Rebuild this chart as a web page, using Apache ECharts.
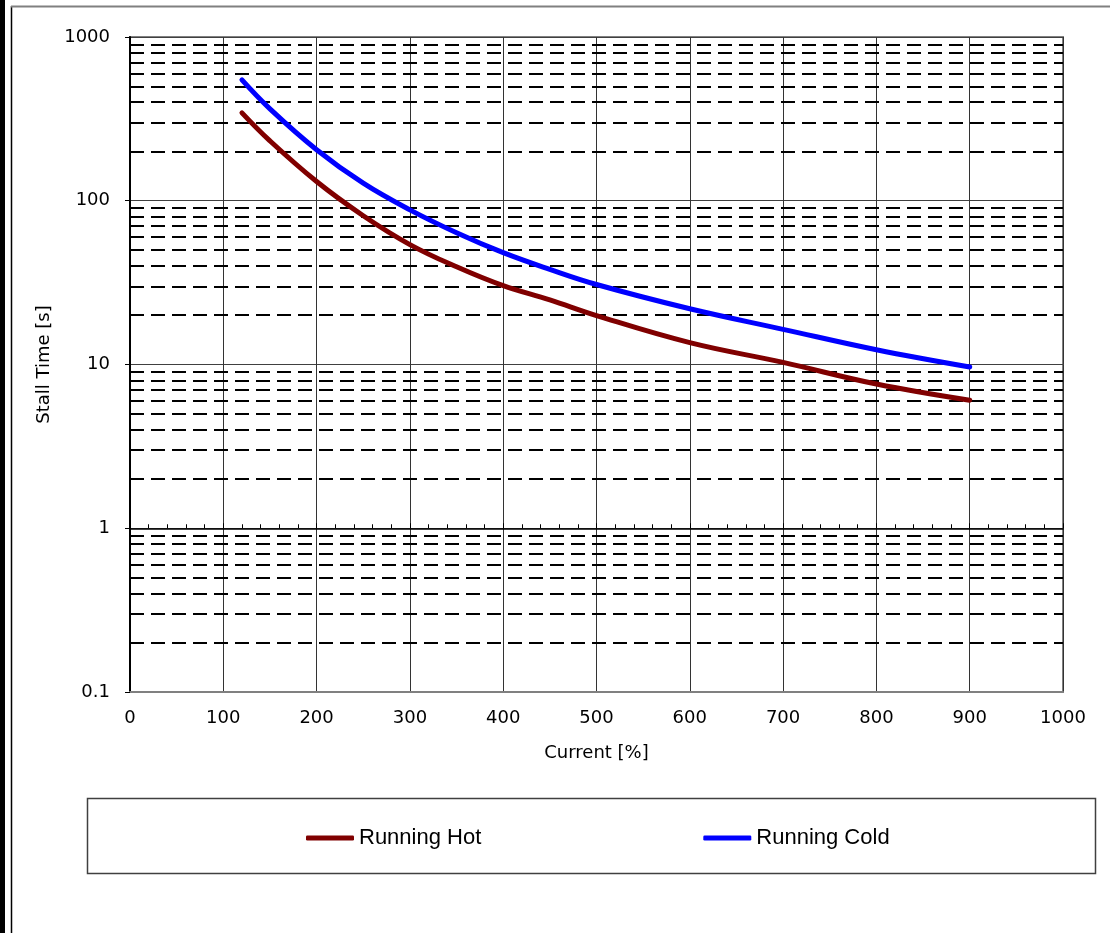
<!DOCTYPE html>
<html>
<head>
<meta charset="utf-8">
<script src="https://cdn.jsdelivr.net/npm/echarts@6/dist/echarts.min.js"></script>
<style>
html,body{margin:0;padding:0;background:#fff;}
#chart{width:1110px;height:933px;}
</style>
</head>
<body>
<div id="chart"></div>
<script>
// ---- data ----
const currentPct = [120, 150, 200, 250, 300, 350, 400, 450, 500, 600, 700, 800, 900];
const runningHot = [344, 232, 131, 81, 54, 39.5, 30.3, 24.8, 19.9, 13.6, 10.3, 7.6, 6.05];
const runningCold = [547, 364, 205, 128, 88, 63.8, 48.2, 38.1, 30.8, 21.9, 16.4, 12.3, 9.65];
const seriesNames = ['Running Hot', 'Running Cold'];
const xTicks = [0, 100, 200, 300, 400, 500, 600, 700, 800, 900, 1000];
const yDecades = [0.1, 1, 10, 100, 1000];
const minorSteps = [2, 3, 4, 5, 6, 7, 8, 9];

const minorLines = [];
for (let d = 0; d < yDecades.length - 1; d++) {
  for (const m of minorSteps) minorLines.push({ yAxis: +(yDecades[d] * m).toPrecision(6) });
}

const axisFont = 'DejaVu Sans';
const chart = echarts.init(document.getElementById('chart'), null, { renderer: 'canvas' });

chart.setOption({
  backgroundColor: '#fff',
  animation: false,
  grid: {
    left: 130, right: 47, top: 37, bottom: 241,
    show: true, borderColor: '#808080', borderWidth: 2, backgroundColor: 'transparent'
  },
  legend: {
    data: seriesNames,
    left: 301, top: 822,
    itemWidth: 48, itemHeight: 5, itemGap: 222,
    icon: 'roundRect',
    textStyle: { fontFamily: 'Liberation Sans', fontSize: 22, color: '#000' }
  },
  xAxis: [{
    type: 'value', min: xTicks[0], max: xTicks[xTicks.length - 1], interval: 100,
    position: 'bottom',
    name: 'Current [%]', nameLocation: 'middle', nameGap: 52,
    nameTextStyle: { fontFamily: axisFont, fontSize: 18, color: '#000' },
    axisLine: { show: true, lineStyle: { color: '#808080', width: 2 } },
    axisTick: { show: false },
    axisLabel: { margin: 17, fontFamily: axisFont, fontSize: 18, color: '#000',
      formatter: v => String(v) },
    splitLine: { show: true, lineStyle: { color: '#333', width: 1 } }
  }, {
    type: 'value', min: xTicks[0], max: xTicks[xTicks.length - 1], interval: 100,
    position: 'bottom', offset: -163.75,
    axisLine: { show: true, onZero: false, lineStyle: { color: '#000', width: 1.5 } },
    axisTick: { show: true, inside: true, length: 5, lineStyle: { color: '#000', width: 1 } },
    minorTick: { show: true, splitNumber: 5, length: 4, lineStyle: { color: '#000', width: 1 } },
    axisLabel: { show: false },
    splitLine: { show: false }
  }],
  yAxis: {
    type: 'log', logBase: 10, min: yDecades[0], max: yDecades[yDecades.length - 1],
    name: 'Stall Time [s]', nameLocation: 'middle', nameGap: 73,
    nameTextStyle: { fontFamily: axisFont, fontSize: 18, color: '#000' },
    axisLine: { show: true, lineStyle: { color: '#000', width: 2 } },
    axisTick: { show: true, inside: false, length: 5, lineStyle: { color: '#000', width: 1 } },
    axisLabel: { margin: 20, fontFamily: axisFont, fontSize: 18, color: '#000',
      formatter: v => String(+v.toPrecision(6)) },
    splitLine: { show: true, lineStyle: { color: '#404040', width: 1 } }
  },
  series: [{
    name: seriesNames[0], type: 'line', xAxisIndex: 0,
    data: currentPct.map((x, i) => [x, runningHot[i]]),
    smooth: 0.4, showSymbol: false, symbol: 'none', z: 3,
    lineStyle: { color: '#800000', width: 5, cap: 'round' },
    itemStyle: { color: '#800000' },
    markLine: {
      silent: true, symbol: 'none', z: 1, animation: false,
      label: { show: false },
      lineStyle: { color: '#000', width: 2, type: [14, 7] },
      emphasis: { disabled: true },
      data: minorLines
    }
  }, {
    name: seriesNames[1], type: 'line', xAxisIndex: 0,
    data: currentPct.map((x, i) => [x, runningCold[i]]),
    smooth: 0.4, showSymbol: false, symbol: 'none', z: 3,
    lineStyle: { color: '#0000ff', width: 5, cap: 'round' },
    itemStyle: { color: '#0000ff' }
  }],
  graphic: [
    { type: 'rect', shape: { x: 0, y: 0, width: 5, height: 933 }, style: { fill: '#000' }, silent: true },
    { type: 'line', shape: { x1: 11.5, y1: 6, x2: 11.5, y2: 933 }, style: { stroke: '#000', lineWidth: 1.5 }, silent: true },
    { type: 'line', shape: { x1: 11, y1: 6.5, x2: 1110, y2: 6.5 }, style: { stroke: '#808080', lineWidth: 2 }, silent: true },
    { type: 'rect', shape: { x: 87.5, y: 798.5, width: 1008, height: 75 }, style: { fill: 'none', stroke: '#404040', lineWidth: 1.5 }, silent: true }
  ]
});
</script>
</body>
</html>
